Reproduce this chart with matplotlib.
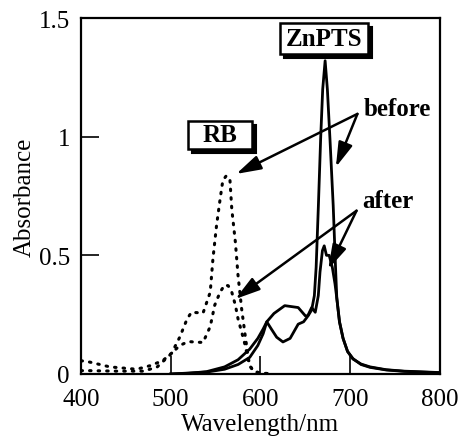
import matplotlib
matplotlib.use("Agg")
import matplotlib.pyplot as plt
import matplotlib.transforms as mtransforms
from matplotlib.patches import FancyArrowPatch, Rectangle

plt.rcParams['font.family'] = ['Liberation Serif', 'DejaVu Serif']

# RB (dotted) before / after
rb_before_x = [400, 410, 432, 462, 477, 491, 501, 510, 518, 523, 536, 544, 547, 551, 555, 558, 562,
               566, 568, 572, 575, 579, 583, 586, 588, 592, 600, 615]
rb_before_y = [0.056, 0.05, 0.03, 0.02, 0.035, 0.056, 0.088, 0.155, 0.23, 0.26, 0.257, 0.345, 0.485,
               0.625, 0.737, 0.815, 0.836, 0.815, 0.695, 0.556, 0.414, 0.274, 0.161, 0.077, 0.035,
               0.012, 0.004, 0.0]
rb_after_x = [400, 410, 440, 470, 485, 499, 510, 518, 522, 529, 536, 544, 549, 555, 560, 564, 568,
              572, 575, 579, 583, 586, 589, 593, 600, 615]
rb_after_y = [0.014, 0.014, 0.012, 0.012, 0.03, 0.08, 0.12, 0.134, 0.136, 0.134, 0.133, 0.2, 0.29,
              0.345, 0.375, 0.372, 0.345, 0.29, 0.232, 0.177, 0.12, 0.063, 0.03, 0.01, 0.004, 0.0]

# ZnPTS (solid) before / after
zn_before_x = [500, 520, 540, 560, 575, 588, 597, 603, 607, 615, 627, 642, 650, 653, 657, 660, 662,
               664.5, 667, 669.3, 672, 674.5, 677.4, 681, 683.8, 685, 688, 692, 697, 703, 712, 722,
               740, 760, 800]
zn_before_y = [0.0, 0.003, 0.01, 0.03, 0.06, 0.105, 0.15, 0.19, 0.22, 0.255, 0.288, 0.28, 0.245,
               0.245, 0.27, 0.33, 0.45, 0.71, 0.99, 1.2, 1.32, 1.2, 0.99, 0.71, 0.43, 0.32, 0.22,
               0.15, 0.095, 0.063, 0.042, 0.03, 0.018, 0.012, 0.006]
zn_after_x = [500, 540, 560, 575, 588, 597, 603, 607, 612, 618, 625, 633, 642, 648, 652, 657, 661,
              664.4, 666.3, 669, 671, 673.5, 676.5, 680, 683, 685, 688, 692, 697, 703, 712, 722, 740,
              760, 800]
zn_after_y = [0.0, 0.008, 0.02, 0.04, 0.07, 0.12, 0.17, 0.22, 0.19, 0.155, 0.135, 0.15, 0.21, 0.22,
              0.24, 0.28, 0.26, 0.33, 0.43, 0.52, 0.54, 0.5, 0.5, 0.45, 0.38, 0.32, 0.22, 0.15,
              0.095, 0.065, 0.04, 0.028, 0.017, 0.011, 0.005]

x_ticks = [400, 500, 600, 700, 800]
y_ticks = [0, 0.5, 1, 1.5]
y_tick_labels = ['0', '0.5', '1', '1.5']

fig = plt.figure(figsize=(4.62, 4.39), dpi=100)
ax = fig.add_axes([0.1753, 0.1458, 0.9524 - 0.1753, 0.9567 - 0.1458])

dot = (0, (0.5, 2.3))
ax.plot(rb_before_x, rb_before_y, color='black', lw=2.2, linestyle=dot, dash_capstyle='round')
ax.plot(rb_after_x, rb_after_y, color='black', lw=2.2, linestyle=dot, dash_capstyle='round')
ax.plot(zn_before_x, zn_before_y, color='black', lw=2.0)
ax.plot(zn_after_x, zn_after_y, color='black', lw=2.0)

ax.set_xlim(400, 800)
ax.set_ylim(0, 1.5)
ax.set_xticks(x_ticks)
ax.set_yticks(y_ticks)
ax.set_yticklabels(y_tick_labels)
ax.tick_params(direction='in', length=13, width=1.2, labelsize=18)
ax.tick_params(axis='x', pad=10)
ax.tick_params(axis='y', pad=8)
for s in ax.spines.values():
    s.set_linewidth(1.6)

ax.set_xlabel('Wavelength/nm', fontsize=18, labelpad=2)
ax.set_ylabel('Absorbance', fontsize=18, labelpad=2)

def shadow_box(x0, x1, y0, y1, tx, ty, text):
    # shadow offset a few pixels right/down
    off = mtransforms.offset_copy(ax.transData, fig=fig, x=4, y=-4, units='dots')
    ax.add_patch(Rectangle((x0, y0), x1 - x0, y1 - y0, transform=off, facecolor='black',
                           edgecolor='black', lw=1.5, zorder=5))
    ax.add_patch(Rectangle((x0, y0), x1 - x0, y1 - y0, facecolor='white',
                           edgecolor='black', lw=1.8, zorder=6))
    ax.text(tx, ty, text, ha='center', va='center', fontsize=18, fontweight='bold',
            color='black', zorder=7)

shadow_box(622, 720, 1.350, 1.478, 671, 1.414, 'ZnPTS')
shadow_box(519, 590, 0.948, 1.067, 555, 1.008, 'RB')

ax.text(715, 1.117, 'before', ha='left', va='center', fontsize=18, fontweight='bold')
ax.text(713, 0.73, 'after', ha='left', va='center', fontsize=18, fontweight='bold')

def arrow(p0, p1):
    a = FancyArrowPatch(p0, p1, arrowstyle='-|>,head_length=0.75,head_width=0.22',
                        mutation_scale=20, color='black', lw=1.8, shrinkA=0, shrinkB=0,
                        zorder=8)
    ax.add_patch(a)

arrow((708, 1.096), (573, 0.843))
arrow((708, 1.096), (684, 0.872))
arrow((707, 0.688), (572, 0.316))
arrow((707, 0.688), (675.5, 0.442))

fig.savefig('out.png', dpi=100)
